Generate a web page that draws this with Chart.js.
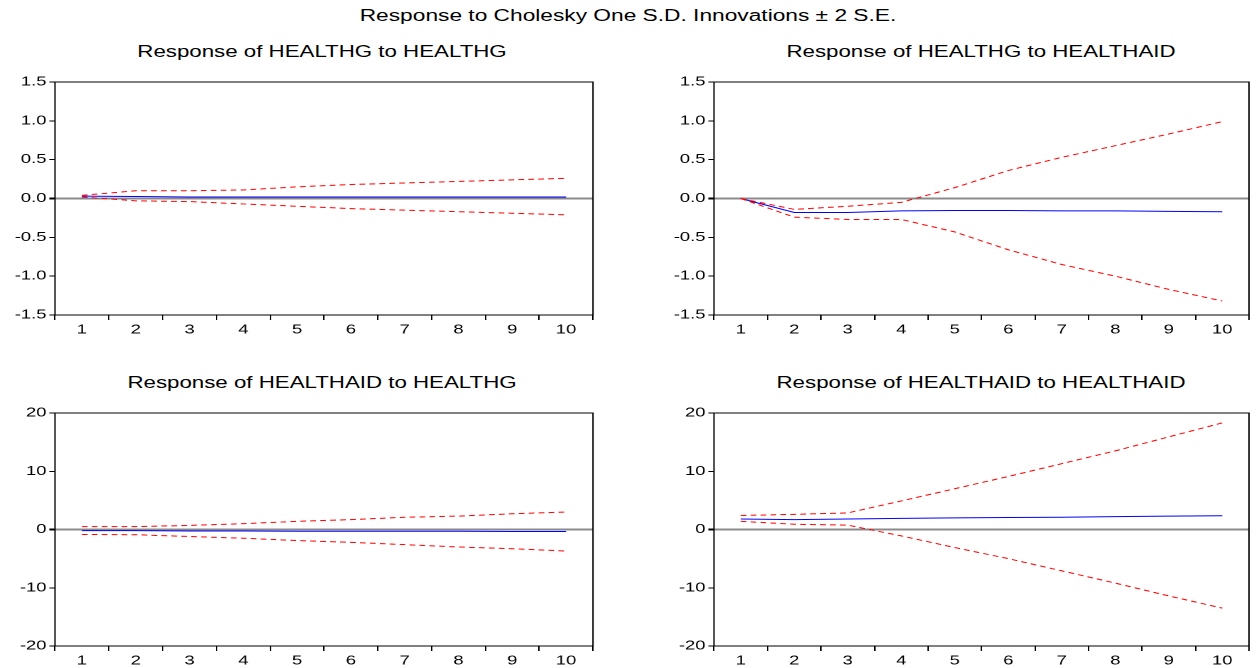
<!DOCTYPE html>
<html>
<head>
<meta charset="utf-8">
<script src="https://cdn.jsdelivr.net/npm/chart.js@4.4.1/dist/chart.umd.min.js"></script>
<style>
  body { margin: 0; background: #fff; width: 1257px; height: 668px; overflow: hidden; position: relative;
         font-family: "Liberation Sans", Arial, sans-serif; }
  .ttl { position: absolute; white-space: nowrap; color: #000; transform: translate(-50%, -50%) scaleX(1.42); }
  .box { position: absolute; transform: scaleX(1.42); transform-origin: 0 0; }
</style>
</head>
<body>

<div class="ttl" style="left:628px;top:16px;font-size:16px">Response to Cholesky One S.D. Innovations ± 2 S.E.</div>
<div class="ttl" style="left:322px;top:52px;font-size:15.7px">Response of HEALTHG to HEALTHG</div>
<div class="ttl" style="left:981px;top:52px;font-size:15.7px">Response of HEALTHG to HEALTHAID</div>
<div class="ttl" style="left:322px;top:383px;font-size:15.7px">Response of HEALTHAID to HEALTHG</div>
<div class="ttl" style="left:981px;top:383px;font-size:15.7px">Response of HEALTHAID to HEALTHAID</div>

<div class="box" style="left:0px;top:60px"><canvas id="c1" width="430" height="277"></canvas></div>
<div class="box" style="left:659px;top:60px"><canvas id="c2" width="421" height="277"></canvas></div>
<div class="box" style="left:0px;top:391px"><canvas id="c3" width="430" height="277"></canvas></div>
<div class="box" style="left:659px;top:391px"><canvas id="c4" width="421" height="277"></canvas></div>

<script>
// periods on the x axis
const periods = ['1', '2', '3', '4', '5', '6', '7', '8', '9', '10'];

// response of HEALTHG to HEALTHG
const gToG = [0.03, 0.025, 0.02, 0.02, 0.02, 0.02, 0.02, 0.02, 0.02, 0.02];
const gToGHi = [0.04, 0.10, 0.10, 0.11, 0.15, 0.18, 0.20, 0.22, 0.24, 0.26];
const gToGLo = [0.02, -0.03, -0.04, -0.07, -0.10, -0.13, -0.15, -0.17, -0.19, -0.21];

// response of HEALTHG to HEALTHAID
const gToAid = [0.0, -0.18, -0.18, -0.16, -0.155, -0.155, -0.16, -0.16, -0.165, -0.17];
const gToAidHi = [0.0, -0.14, -0.10, -0.05, 0.14, 0.36, 0.53, 0.68, 0.83, 0.99];
const gToAidLo = [0.0, -0.24, -0.27, -0.27, -0.43, -0.66, -0.85, -1.0, -1.17, -1.32];

// response of HEALTHAID to HEALTHG
const aidToG = [-0.2, -0.2, -0.25, -0.25, -0.3, -0.3, -0.3, -0.3, -0.35, -0.35];
const aidToGHi = [0.5, 0.5, 0.7, 1.0, 1.4, 1.7, 2.1, 2.3, 2.7, 3.0];
const aidToGLo = [-0.85, -0.9, -1.2, -1.5, -1.9, -2.2, -2.6, -3.0, -3.3, -3.7];

// response of HEALTHAID to HEALTHAID
const aidToAid = [1.8, 1.7, 1.8, 1.9, 2.0, 2.05, 2.1, 2.2, 2.3, 2.35];
const aidToAidHi = [2.4, 2.6, 2.85, 4.9, 7.0, 9.1, 11.3, 13.5, 15.9, 18.3];
const aidToAidLo = [1.4, 0.9, 0.75, -1.1, -3.1, -5.0, -7.1, -9.2, -11.4, -13.5];

// y axis settings per row
const smallTicks = { min: -1.5, max: 1.5, step: 0.5, digits: 1 };
const bigTicks = { min: -20, max: 20, step: 10, digits: 0 };

const SX = 1.42;   // horizontal stretch of the panels
const tickFont = { family: '"Liberation Sans", Arial, sans-serif', size: 13 };

// black box round the plot area
const framePlugin = {
    id: 'frame',
    afterDatasetsDraw(chart) {
        const ctx = chart.ctx, a = chart.chartArea;
        ctx.save();
        ctx.strokeStyle = '#000';
        ctx.lineWidth = 1;
        ctx.strokeRect(a.left, a.top, a.right - a.left, a.bottom - a.top);
        ctx.restore();
    }
};

function makePanel(id, boxLeft, plotLeft, plotRight, yCfg, resp, lo, hi) {
    const canvas = document.getElementById(id);
    const yWidth = (plotLeft - boxLeft) / SX;
    const padRight = canvas.width - (plotRight - boxLeft) / SX;

    const band = (data) => ({
        data: data, borderColor: '#ff0000', borderWidth: 1, borderDash: [4, 3],
        pointRadius: 0, tension: 0, fill: false
    });

    return new Chart(canvas, {
        type: 'line',
        data: {
            labels: periods,
            datasets: [
                band(hi),
                band(lo),
                { data: resp, borderColor: '#0000ff', borderWidth: 1, pointRadius: 0, tension: 0, fill: false }
            ]
        },
        options: {
            responsive: false,
            animation: false,
            devicePixelRatio: 2,
            layout: { padding: { left: 0, right: padRight, top: 22, bottom: 0 } },
            plugins: { legend: { display: false }, tooltip: { enabled: false } },
            scales: {
                x: {
                    offset: true,
                    border: { display: false },
                    grid: { offset: true, drawOnChartArea: false, tickLength: 5, tickColor: '#000' },
                    ticks: { color: '#000', font: tickFont, padding: 2, maxRotation: 0, autoSkip: false },
                    afterFit: (s) => { s.height = 22; }
                },
                y: {
                    min: yCfg.min,
                    max: yCfg.max,
                    border: { display: false },
                    grid: {
                        tickLength: 4,
                        tickColor: '#000',
                        color: (c) => (c.tick && c.tick.value === 0 ? '#8a8a8a' : 'rgba(0,0,0,0)'),
                        lineWidth: (c) => (c.tick && c.tick.value === 0 ? 2 : 1)
                    },
                    ticks: {
                        stepSize: yCfg.step,
                        color: '#000',
                        font: tickFont,
                        padding: 2,
                        callback: (v) => Number(v).toFixed(yCfg.digits)
                    },
                    afterFit: (s) => { s.width = yWidth; }
                }
            }
        },
        plugins: [framePlugin]
    });
}

makePanel('c1', 0, 55, 593, smallTicks, gToG, gToGLo, gToGHi);
makePanel('c2', 659, 714, 1249, smallTicks, gToAid, gToAidLo, gToAidHi);
makePanel('c3', 0, 55, 593, bigTicks, aidToG, aidToGLo, aidToGHi);
makePanel('c4', 659, 714, 1249, bigTicks, aidToAid, aidToAidLo, aidToAidHi);
</script>
</body>
</html>
